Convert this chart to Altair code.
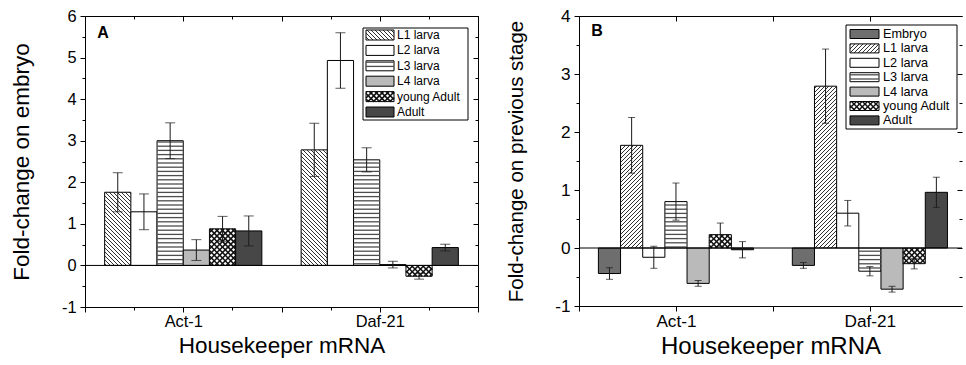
import numpy as np
import pandas as pd
import altair as alt

FONT = "Liberation Sans"

# Housekeeper genes on the x axis
genes = ["Act-1", "Daf-21"]

# Panel A: fold-change of each stage relative to embryo
stages_a = ["L1 larva", "L2 larva", "L3 larva", "L4 larva", "young Adult", "Adult"]
act1_a = [1.76, 1.29, 3.00, 0.37, 0.88, 0.83]
act1_a_err = [0.47, 0.43, 0.43, 0.25, 0.30, 0.36]
daf21_a = [2.78, 4.93, 2.54, 0.02, -0.26, 0.43]
daf21_a_err = [0.64, 0.67, 0.29, 0.08, 0.07, 0.08]

# Panel B: fold-change of each stage relative to the previous stage
stages_b = ["Embryo", "L1 larva", "L2 larva", "L3 larva", "L4 larva", "young Adult", "Adult"]
act1_b = [-0.44, 1.77, -0.16, 0.80, -0.61, 0.23, -0.03]
act1_b_err = [0.10, 0.48, 0.19, 0.32, 0.05, 0.20, 0.14]
daf21_b = [-0.30, 2.79, 0.60, -0.40, -0.71, -0.27, 0.96]
daf21_b_err = [0.05, 0.64, 0.22, 0.08, 0.05, 0.09, 0.26]

FILL = {
    "Embryo": "#6e6e6e",
    "L1 larva": "#ffffff",
    "L2 larva": "#ffffff",
    "L3 larva": "#ffffff",
    "L4 larva": "#bababa",
    "young Adult": "#ffffff",
    "Adult": "#474747",
}
PATTERN = {"L1 larva": "diag", "L3 larva": "horiz", "young Adult": "cross"}


def hatch_styles(kind, diag_dir):
    """(direction, spacing px, stroke width, colour) for each line family."""
    if kind == "diag":
        return [(diag_dir, 4.0, 0.9, "#1a1a1a")]
    if kind == "horiz":
        return [("horiz", 4.2, 1.3, "#4d4d4d")]
    return [("back", 5.5, 1.5, "#111111"), ("fwd", 5.5, 1.5, "#111111")]


def clip_lines(u0, u1, t0, t1, direction, sp):
    """Hatch segments clipped to a pixel rectangle (u right, t down)."""
    segs = []
    if direction == "horiz":
        for k in range(int(np.ceil(t0 / sp)), int(np.floor(t1 / sp)) + 1):
            t = k * sp
            if t0 + 0.4 < t < t1 - 0.4:
                segs.append((u0, t, u1, t))
    elif direction == "back":  # "\" : t = u - c
        for k in range(int(np.floor((u0 - t1) / sp)), int(np.ceil((u1 - t0) / sp)) + 1):
            c = k * sp
            a, b = max(u0, t0 + c), min(u1, t1 + c)
            if b - a > 0.3:
                segs.append((a, a - c, b, b - c))
    else:  # "/" : t = c - u
        for k in range(int(np.floor((u0 + t0) / sp)), int(np.ceil((u1 + t1) / sp)) + 1):
            c = k * sp
            a, b = max(u0, c - t1), min(u1, c - t0)
            if b - a > 0.3:
                segs.append((a, c - a, b, c - b))
    return segs


def panel(stages, values, errors, y_domain, width, height, x_max, letter,
          letter_pos, y_title, y_title_size, x_title_size, label_size,
          diag_dir, x_minor, cap_px, right_domain, legend):
    x_min = 0.5
    y_min, y_max = y_domain
    sx = width / (x_max - x_min)
    sy = height / (y_max - y_min)
    n = len(stages)
    bw = 0.8 / n

    rows = []
    for gi, gene in enumerate(genes):
        for si, st in enumerate(stages):
            xc = gi + 1 + (si - (n - 1) / 2) * bw
            v, e = values[gi][si], errors[gi][si]
            rows.append(dict(gene=gene, stage=st, xc=xc, x0=xc - bw / 2,
                             x1=xc + bw / 2, v=v, base=0.0, lo=v - e, hi=v + e,
                             fill=FILL[st]))
    bars = pd.DataFrame(rows)

    # hatching inside the bars, converted back to data units
    segs = []
    for r in rows:
        kind = PATTERN.get(r["stage"])
        if not kind:
            continue
        u0, u1 = (r["x0"] - x_min) * sx, (r["x1"] - x_min) * sx
        t0, t1 = (y_max - max(r["v"], 0)) * sy, (y_max - min(r["v"], 0)) * sy
        for d, sp, w, c in hatch_styles(kind, diag_dir):
            for ua, ta, ub, tb in clip_lines(u0, u1, t0, t1, d, sp):
                segs.append(dict(x=x_min + ua / sx, y=y_max - ta / sy,
                                 x2=x_min + ub / sx, y2=y_max - tb / sy,
                                 sw=w, col=c))
    hatch = pd.DataFrame(segs)

    caps = pd.concat([bars.assign(yc=bars["lo"]), bars.assign(yc=bars["hi"])])

    xs = alt.Scale(domain=[x_min, x_max], nice=False, zero=False)
    ys = alt.Scale(domain=[y_min, y_max], nice=False, zero=False)

    y_vals = [float(v) for v in np.arange(y_min, y_max + 1e-9, 0.5)]
    step = 0.25 if x_minor else 0.5
    x_vals = [float(v) for v in np.arange(x_min, x_max + 1e-9, step)]
    gene_expr = "".join(
        f"datum.value === {i + 1} ? '{g}' : " for i, g in enumerate(genes)) + "''"

    major_y = "datum.value % 1 === 0"
    major_x = "datum.value % 0.5 === 0"
    common = dict(grid=False, domainColor="black", tickColor="black",
                  domainWidth=1, tickWidth=1, labelColor="black",
                  labelFont=FONT, titleFont=FONT, titleColor="black",
                  titleFontWeight="normal")

    left_axis = alt.Axis(
        orient="left", values=y_vals,
        labelExpr=f"{major_y} ? '' + datum.value : ''",
        tickSize={"condition": {"test": major_y, "value": 5}, "value": 3},
        labelFontSize=label_size, labelPadding=4, title=y_title,
        titleFontSize=y_title_size, titlePadding=28, **common)
    right_axis = alt.Axis(
        orient="right", values=y_vals, labels=False, title=None,
        domain=right_domain,
        tickSize={"condition": {"test": major_y, "value": -5}, "value": -3},
        **common)
    bottom_axis = alt.Axis(
        orient="bottom", values=x_vals, labelExpr=gene_expr,
        tickSize={"condition": {"test": major_x, "value": 5}, "value": 3},
        labelFontSize=label_size, labelPadding=1, labelFlush=False,
        title="Housekeeper mRNA", titleFontSize=x_title_size,
        titlePadding=5, **common)
    top_axis = alt.Axis(
        orient="top", values=x_vals, labels=False, title=None,
        tickSize={"condition": {"test": major_x, "value": -5}, "value": -3},
        **common)

    bar_layer = alt.Chart(bars).mark_rect(stroke="black", strokeWidth=1).encode(
        x=alt.X("x0:Q", scale=xs, axis=bottom_axis),
        x2="x1",
        y=alt.Y("v:Q", scale=ys, axis=left_axis),
        y2="base",
        color=alt.Color("fill:N", scale=None),
    )
    hatch_layer = alt.Chart(hatch).mark_rule().encode(
        x=alt.X("x:Q", scale=xs, axis=None), x2="x2",
        y=alt.Y("y:Q", scale=ys, axis=None), y2="y2",
        color=alt.Color("col:N", scale=None),
        strokeWidth=alt.StrokeWidth("sw:Q", scale=None),
    )
    zero_layer = alt.Chart(pd.DataFrame({"z": [0.0]})).mark_rule(
        color="black", strokeWidth=1).encode(
        y=alt.Y("z:Q", scale=ys, axis=None))
    err_layer = alt.Chart(bars).mark_rule(color="#1a1a1a", strokeWidth=1).encode(
        x=alt.X("xc:Q", scale=xs, axis=top_axis),
        y=alt.Y("lo:Q", scale=ys, axis=right_axis), y2="hi")
    cap_layer = alt.Chart(caps).mark_tick(
        orient="horizontal", size=cap_px, thickness=1, color="#1a1a1a").encode(
        x=alt.X("xc:Q", scale=xs, axis=None),
        y=alt.Y("yc:Q", scale=ys, axis=None))

    # legend drawn in pixel space
    (bx0, bx1, by0, by1), (sw0, sw1, sh), ly0, lstep, tx, lsize = legend
    items = []
    lsegs = []
    for i, st in enumerate(stages):
        yc = ly0 + i * lstep
        items.append(dict(stage=st, a=sw0, b=sw1, c=yc - sh / 2, d=yc + sh / 2,
                          tx=tx, yc=yc, fill=FILL[st]))
        kind = PATTERN.get(st)
        if kind:
            for d, sp, w, c in hatch_styles(kind, diag_dir):
                for ua, ta, ub, tb in clip_lines(sw0, sw1, yc - sh / 2, yc + sh / 2, d, sp):
                    lsegs.append(dict(a=ua, c=ta, b=ub, d=tb, sw=w, col=c))
    items = pd.DataFrame(items)
    lsegs = pd.DataFrame(lsegs)

    box_layer = alt.Chart(pd.DataFrame({"k": [0]})).mark_rect(
        fill="white", stroke="black", strokeWidth=1).encode(
        x=alt.value(bx0), x2=alt.value(bx1), y=alt.value(by0), y2=alt.value(by1))
    swatch_layer = alt.Chart(items).mark_rect(stroke="black", strokeWidth=1).encode(
        x=alt.X("a:Q", scale=None, axis=None), x2="b",
        y=alt.Y("c:Q", scale=None, axis=None), y2="d",
        color=alt.Color("fill:N", scale=None))
    swatch_hatch = alt.Chart(lsegs).mark_rule().encode(
        x=alt.X("a:Q", scale=None, axis=None), x2="b",
        y=alt.Y("c:Q", scale=None, axis=None), y2="d",
        color=alt.Color("col:N", scale=None),
        strokeWidth=alt.StrokeWidth("sw:Q", scale=None))
    text_layer = alt.Chart(items).mark_text(
        align="left", baseline="middle", font=FONT, fontSize=lsize,
        color="black").encode(
        x=alt.X("tx:Q", scale=None, axis=None),
        y=alt.Y("yc:Q", scale=None, axis=None),
        text="stage:N")
    letter_layer = alt.Chart(pd.DataFrame({"t": [letter]})).mark_text(
        align="center", baseline="middle", font=FONT, fontSize=16,
        fontWeight="bold", color="black").encode(
        x=alt.value(letter_pos[0]), y=alt.value(letter_pos[1]), text="t:N")

    return alt.layer(
        bar_layer, hatch_layer, zero_layer, err_layer, cap_layer,
        box_layer, swatch_layer, swatch_hatch, text_layer, letter_layer,
    ).resolve_axis(x="independent", y="independent").properties(
        width=width, height=height)


panel_a = panel(
    stages_a, [act1_a, daf21_a], [act1_a_err, daf21_a_err], (-1, 6),
    width=393, height=291, x_max=2.5, letter="A", letter_pos=(18, 17),
    y_title="Fold-change on embryo", y_title_size=22.5, x_title_size=22.5,
    label_size=16.4, diag_dir="back", x_minor=True, cap_px=10,
    right_domain=True,
    legend=((278, 383, 12, 104), (281, 309, 10), 19, 15.4, 312, 12),
)
panel_b = panel(
    stages_b, [act1_b, daf21_b], [act1_b_err, daf21_b_err], (-1, 4),
    width=383, height=290, x_max=2.475, letter="B", letter_pos=(18, 15),
    y_title="Fold-change on previous stage", y_title_size=20.5,
    x_title_size=24, label_size=17.2, diag_dir="fwd", x_minor=False,
    cap_px=7, right_domain=False,
    legend=((267, 378, 9, 113), (271, 300, 9), 18, 14.4, 304, 12.7),
)

chart = alt.hconcat(panel_a, panel_b, spacing=27).properties(
    padding={"left": 10, "top": 7, "right": 0, "bottom": 0}
).configure_view(stroke=None).configure_text(font=FONT)

chart.save("out.html", embed_options={"renderer": "svg", "actions": False})
